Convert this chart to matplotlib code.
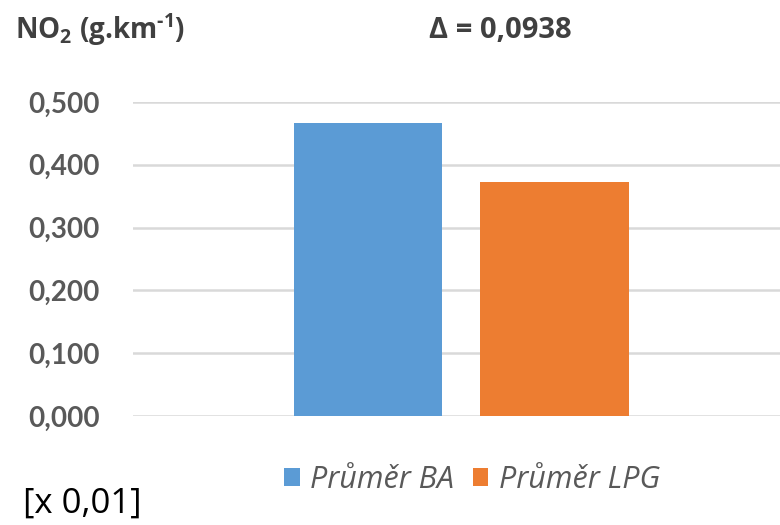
import matplotlib.pyplot as plt
from matplotlib.patches import Patch

# Data
series = ["Průměr BA", "Průměr LPG"]
values = [0.467, 0.373]
colors = ["#5B9BD5", "#ED7D31"]
yticks = [0.0, 0.1, 0.2, 0.3, 0.4, 0.5]
delta_label = "Δ = 0,0938"

fam = ["Lato", "DejaVu Sans"]
fam2 = ["Open Sans", "DejaVu Sans"]
plt.rcParams["font.family"] = fam
plt.rcParams["mathtext.fontset"] = "custom"
plt.rcParams["mathtext.rm"] = "Open Sans:bold"
plt.rcParams["mathtext.bf"] = "Open Sans:bold"

fig = plt.figure(figsize=(7.8, 5.25), dpi=100)
ax = fig.add_axes([133 / 780, 1 - 416 / 525, 647 / 780, (416 - 102) / 525])

xpos = [0, 1]
ax.bar(xpos, values, width=0.794, color=colors, zorder=3)

ax.set_ylim(0, 0.5)
ax.set_xlim(-1.260, 2.209)
ax.set_yticks(yticks)
ax.set_yticklabels([f"{v:.3f}".replace(".", ",") for v in yticks],
                   fontsize=20, fontweight="bold", color="#595959")
ax.set_xticks([])
ax.tick_params(axis="y", length=0, pad=24)
for s in ax.spines.values():
    s.set_visible(False)
ax.grid(axis="y", color="#D9D9D9", linewidth=1.8, zorder=0)

# texts
fig.text(15 / 780, 1 - 30 / 525, r"NO$_{2}$ (g.km$^{\text{-1}}$)", fontsize=20,
         fontweight="bold", color="#404040", va="center", ha="left", family=fam2)
fig.text(500 / 780, 1 - 31 / 525, delta_label, fontsize=21,
         fontweight="bold", color="#404040", va="center", ha="center", family=fam2)
fig.text(23 / 780, 1 - 504 / 525, "[x 0,01]", fontsize=25,
         color="#000000", va="center", ha="left", family=fam2)

handles = [Patch(facecolor=c) for c in colors]
fig.legend(handles, series, loc="center", bbox_to_anchor=(472 / 780, 1 - 480 / 525),
           ncol=2, frameon=False, handlelength=0.5, handleheight=0.5,
           handletextpad=0.35, columnspacing=0.6,
           prop={"family": fam2, "style": "italic", "size": 22}, labelcolor="#595959")

fig.savefig("out.png", dpi=100)
